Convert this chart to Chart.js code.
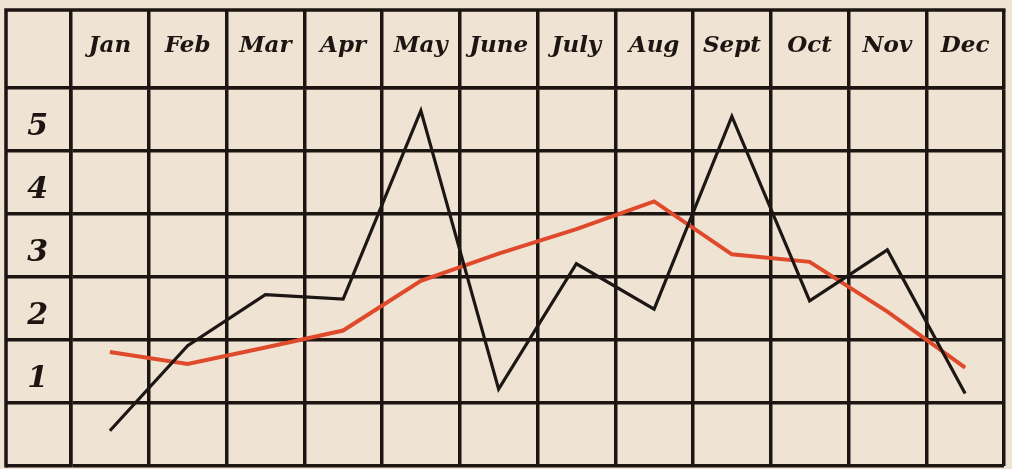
<!DOCTYPE html>
<html>
<head>
<meta charset="utf-8">
<script src="https://cdn.jsdelivr.net/npm/chart.js@4.4.0/dist/chart.umd.min.js"></script>
<style>
  body { margin: 0; background: #efe4d3; }
  canvas { display: block; }
</style>
</head>
<body>
<canvas id="chart" width="1012" height="469"></canvas>
<script>
const months = ['Jan', 'Feb', 'Mar', 'Apr', 'May', 'June', 'July', 'Aug', 'Sept', 'Oct', 'Nov', 'Dec'];
const blackLine = [0.06, 1.41, 2.22, 2.15, 5.14, 0.72, 2.71, 1.99, 5.05, 2.12, 2.93, 0.65];
const redLine = [1.31, 1.12, 1.38, 1.65, 2.44, 2.87, 3.26, 3.7, 2.86, 2.74, 1.95, 1.06];
const yLabels = ['1', '2', '3', '4', '5'];
// grid rows sit between the numbers, so the lines fall on the halves
const rowLines = [-0.5, 0.5, 1.5, 2.5, 3.5, 4.5, 5.5];

const ink = '#1d1512';
const hand = 'DejaVu Serif';

// left edge and top edge of the table, outside the scales
const framePlugin = {
    id: 'frame',
    afterDraw(chart) {
        const ctx = chart.ctx;
        const left = chart.scales.y.left;
        const top = chart.scales.x.top;
        ctx.save();
        ctx.strokeStyle = ink;
        ctx.lineWidth = 3.5;
        ctx.beginPath();
        ctx.moveTo(left, chart.chartArea.bottom + 1.5);
        ctx.lineTo(left, top);
        ctx.lineTo(chart.chartArea.right + 1.5, top);
        ctx.stroke();
        ctx.restore();
    }
};

const ctx = document.getElementById('chart').getContext('2d');

const chart = new Chart(ctx, {
    type: 'line',
    data: {
        labels: months,
        datasets: [
            {
                label: 'Black',
                data: blackLine,
                borderColor: '#1c1714',
                borderWidth: 3.2,
                pointRadius: 0,
                tension: 0
            },
            {
                label: 'Red',
                data: redLine,
                borderColor: '#e04a2c',
                borderWidth: 4,
                pointRadius: 0,
                tension: 0
            }
        ]
    },
    options: {
        responsive: false,
        animation: false,
        layout: {
            padding: { left: 6, top: 10, right: 8, bottom: 3 }
        },
        plugins: {
            legend: { display: false },
            tooltip: { enabled: false }
        },
        scales: {
            x: {
                position: 'top',
                offset: true,
                grid: {
                    offset: true,
                    color: ink,
                    lineWidth: 3.5,
                    tickLength: 78
                },
                border: { color: ink, width: 3.5 },
                ticks: {
                    color: ink,
                    autoSkip: false,
                    maxRotation: 0,
                    padding: -50,
                    font: { family: hand, size: 23, style: 'italic', weight: 'bold' }
                },
                afterFit(axis) {
                    axis.height = 78;
                }
            },
            y: {
                min: -0.5,
                max: 5.5,
                grid: {
                    color: ink,
                    lineWidth: 3.5,
                    tickLength: 65
                },
                border: { color: ink, width: 3.5 },
                afterBuildTicks(axis) {
                    axis.ticks = rowLines.map(v => ({ value: v }));
                },
                ticks: {
                    color: ink,
                    crossAlign: 'near',
                    padding: -42,
                    labelOffset: -24,
                    font: { family: hand, size: 30, style: 'italic', weight: 'bold' },
                    callback: function(value) {
                        const n = Math.round(value + 0.5);
                        return (n >= 1 && n <= 5) ? yLabels[n - 1] : '';
                    }
                },
                afterFit(axis) {
                    axis.width = 65;
                }
            }
        }
    },
    plugins: [framePlugin]
});
</script>
</body>
</html>
